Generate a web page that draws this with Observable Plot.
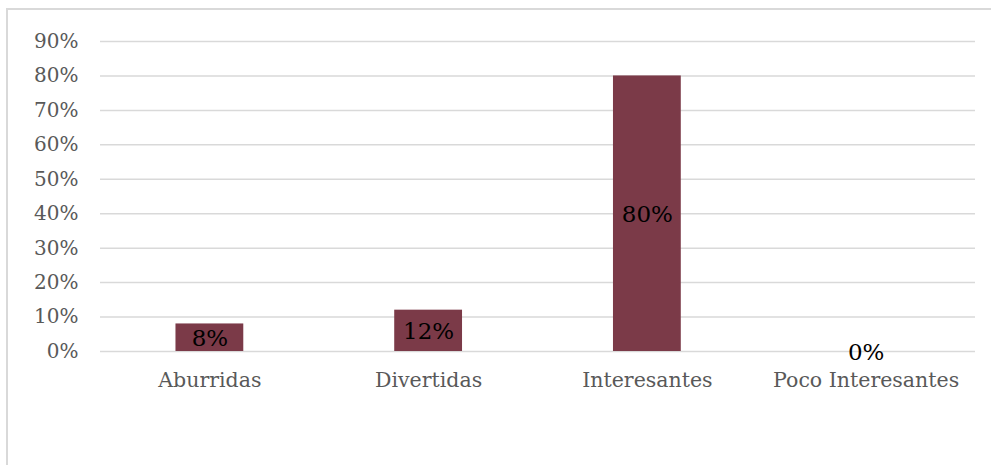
<!DOCTYPE html>
<html>
<head>
<meta charset="utf-8">
<script src="https://cdn.jsdelivr.net/npm/d3@7"></script>
<script src="https://cdn.jsdelivr.net/npm/@observablehq/plot@0.6"></script>
<style>
  html, body { margin: 0; padding: 0; background: #fff; overflow: hidden; width: 991px; height: 465px; }
  #frame { position: absolute; left: 6px; top: 8px; width: 1000px; height: 500px; border: 2px solid #d9d9d9; box-sizing: border-box; }
  #chart { position: absolute; left: 0; top: 0; }
</style>
</head>
<body>
<div id="frame"></div>
<div id="chart"></div>
<script>
const categories = ["Aburridas", "Divertidas", "Interesantes", "Poco Interesantes"];
const values = [0.08, 0.12, 0.80, 0.00];
const labels = ["8%", "12%", "80%", "0%"];
const yTicks = [0, 0.1, 0.2, 0.3, 0.4, 0.5, 0.6, 0.7, 0.8, 0.9];

const data = categories.map((c, i) => ({category: c, value: values[i], label: labels[i]}));

const font = "DejaVu Serif";

const chart = Plot.plot({
  width: 991,
  height: 465,
  marginLeft: 100,
  marginRight: 16,
  marginTop: 41,
  marginBottom: 114,
  style: { fontFamily: font, fontSize: "20px", color: "#595959", background: "transparent", overflow: "visible" },
  x: { domain: categories, paddingInner: 0.69, paddingOuter: 0.345, round: false, label: null },
  y: { domain: [0, 0.9], label: null },
  marks: [
    Plot.gridY(yTicks, { stroke: "#d9d9d9", strokeOpacity: 1, strokeWidth: 1.5 }),
    Plot.axisY(yTicks, { tickSize: 0, tickPadding: 22, tickFormat: d => Math.round(d * 100) + "%", fontSize: 20, fill: "#595959", label: null }),
    Plot.axisX({ tickSize: 0, tickPadding: 21, fontSize: 20.5, fill: "#595959", label: null }),
    Plot.barY(data, { x: "category", y: "value", fill: "#7b3a48" }),
    Plot.text(data, { x: "category", y: d => d.value / 2, text: "label", fill: "#000", fontSize: 23, dy: 1 })
  ]
});
document.getElementById("chart").appendChild(chart);
</script>
</body>
</html>
